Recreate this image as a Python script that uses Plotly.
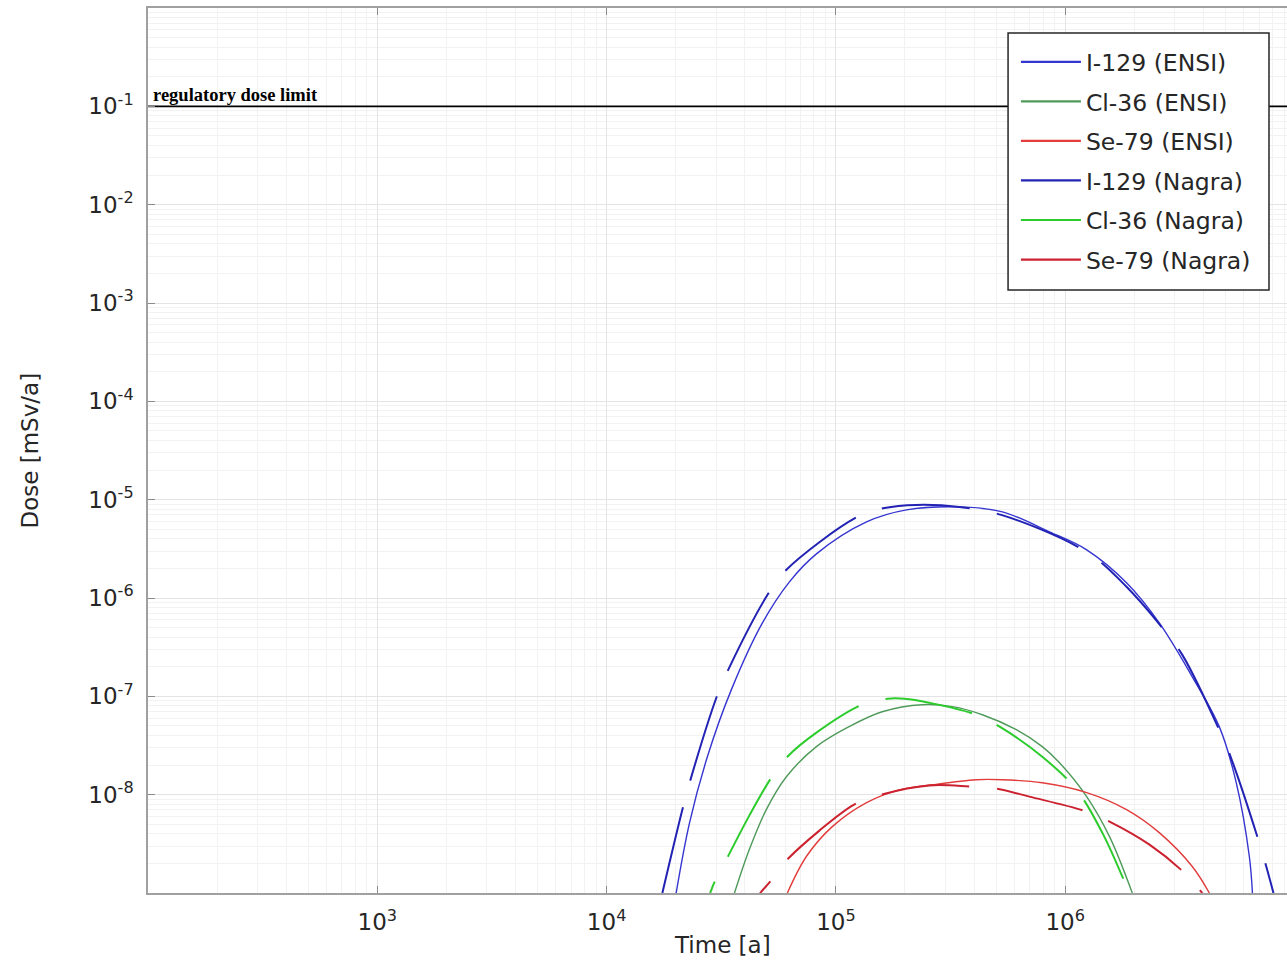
import plotly.graph_objects as go

# ---------------- data ----------------
# I-129 (ENSI)  - solid
t_i129_ensi = [2.01e4, 2.30e4, 2.75e4, 3.50e4, 4.78e4, 6.27e4, 8.22e4, 1.36e5, 2.03e5, 3.45e5,
               5.32e5, 8.53e5, 1.24e6, 1.85e6, 2.57e6, 3.58e6, 4.70e6, 5.57e6, 6.35e6, 6.55e6]
d_i129_ensi = [1.0e-9, 5.2e-9, 2.43e-8, 1.17e-7, 5.58e-7, 1.46e-6, 2.81e-6, 5.94e-6, 7.87e-6, 8.44e-6,
               7.52e-6, 4.71e-6, 3.09e-6, 1.43e-6, 5.58e-7, 1.58e-7, 4.89e-8, 1.32e-8, 2.35e-9, 1.0e-9]

# Cl-36 (ENSI) - solid
t_cl36_ensi = [3.61e4, 4.19e4, 4.97e4, 6.08e4, 8.22e4, 1.14e5, 1.59e5, 2.38e5, 3.22e5, 4.35e5,
               6.12e5, 7.94e5, 9.42e5, 1.24e6, 1.56e6, 1.96e6]
d_cl36_ensi = [1.0e-9, 2.77e-9, 7.05e-9, 1.52e-8, 3.08e-8, 4.91e-8, 6.97e-8, 8.22e-8, 7.85e-8, 6.50e-8,
               4.58e-8, 3.08e-8, 2.12e-8, 9.55e-9, 3.74e-9, 1.0e-9]

# Se-79 (ENSI) - solid
t_se79_ensi = [6.14e4, 7.43e4, 9.64e4, 1.36e5, 1.89e5, 2.63e5, 4.09e5, 5.32e5, 7.94e5, 1.24e6,
               1.85e6, 2.57e6, 3.58e6, 4.25e6]
d_se79_ensi = [1.0e-9, 2.35e-9, 4.73e-9, 8.30e-9, 1.12e-8, 1.26e-8, 1.42e-8, 1.42e-8, 1.32e-8, 1.05e-8,
               7.05e-9, 4.11e-9, 1.86e-9, 1.0e-9]

# I-129 (Nagra) - dashed
t_i129_nagra = [1.75e4, 2.14e4, 2.30e4, 3.01e4, 3.36e4, 5.13e4, 6.08e4, 1.24e5, 1.63e5, 2.24e5,
                3.45e5, 5.26e5, 1.24e6, 1.85e6, 2.76e6, 3.24e6, 4.84e6, 5.36e6, 7.16e6, 8.09e6]
d_i129_nagra = [1.0e-9, 7.05e-9, 1.32e-8, 9.68e-8, 1.78e-7, 1.16e-6, 1.94e-6, 6.68e-6, 8.24e-6, 8.85e-6,
                8.44e-6, 7.00e-6, 2.94e-6, 1.30e-6, 4.42e-7, 2.64e-7, 3.89e-8, 2.16e-8, 2.77e-9, 1.0e-9]

# Cl-36 (Nagra) - dashed (first point lies below the visible range)
t_cl36_nagra = [2.18e4, 2.83e4, 2.95e4, 3.36e4, 4.19e4, 5.23e4, 6.14e4, 8.22e4, 1.30e5, 1.68e5, 1.99e5,
                2.55e5, 4.09e5, 5.26e5, 7.94e5, 1.12e6, 1.45e6, 1.90e6]
d_cl36_nagra = [1.9e-10, 1.0e-9, 1.28e-9, 2.29e-9, 6.12e-9, 1.49e-8, 2.43e-8, 4.27e-8, 8.22e-8, 9.46e-8, 9.46e-8,
                8.61e-8, 6.50e-8, 4.80e-8, 2.43e-8, 1.12e-8, 4.11e-9, 1.0e-9]

# Se-79 (Nagra) - dashed (first point lies below the visible range)
t_se79_nagra = [3.16e4, 4.68e4, 5.13e4, 5.96e4, 8.47e4, 1.20e5, 1.52e5, 2.55e5, 3.82e5, 5.01e5, 6.97e5,
                1.24e6, 1.56e6, 2.33e6, 3.30e6, 3.96e6]
d_se79_nagra = [2.4e-10, 1.0e-9, 1.28e-9, 2.04e-9, 4.31e-9, 7.92e-9, 9.77e-9, 1.24e-8, 1.21e-8, 1.15e-8, 9.55e-9,
                6.73e-9, 5.32e-9, 3.10e-9, 1.61e-9, 1.0e-9]

# regulatory dose limit
limit_t = [1e2, 1e7]
limit_dose = [0.1, 0.1]

x_tickvals = [1e3, 1e4, 1e5, 1e6]
x_ticktext = ["10<sup>3</sup>", "10<sup>4</sup>", "10<sup>5</sup>", "10<sup>6</sup>"]
y_tickvals = [1e-8, 1e-7, 1e-6, 1e-5, 1e-4, 1e-3, 1e-2, 1e-1]
y_ticktext = ["10<sup>-8</sup>", "10<sup>-7</sup>", "10<sup>-6</sup>", "10<sup>-5</sup>",
              "10<sup>-4</sup>", "10<sup>-3</sup>", "10<sup>-2</sup>", "10<sup>-1</sup>"]

series = [
    ("I-129 (ENSI)", t_i129_ensi, d_i129_ensi, "#3535d0", "solid", 1.4),
    ("Cl-36 (ENSI)", t_cl36_ensi, d_cl36_ensi, "#4f9a5a", "solid", 1.4),
    ("Se-79 (ENSI)", t_se79_ensi, d_se79_ensi, "#e23c3c", "solid", 1.4),
    ("I-129 (Nagra)", t_i129_nagra, d_i129_nagra, "#2222b4", "88px,28px", 2.0),
    ("Cl-36 (Nagra)", t_cl36_nagra, d_cl36_nagra, "#2ccc2c", "88px,28px", 2.0),
    ("Se-79 (Nagra)", t_se79_nagra, d_se79_nagra, "#cc2230", "88px,28px", 2.0),
]

FONT = "DejaVu Sans"
TXT = "#262626"
fig = go.Figure()

fig.add_trace(go.Scatter(x=limit_t, y=limit_dose, mode="lines",
                         line=dict(color="black", width=1.6), showlegend=False,
                         hoverinfo="skip"))

for name, t, d, color, dash, w in series:
    fig.add_trace(go.Scatter(x=t, y=d, mode="lines", name=name,
                             line=dict(color=color, dash=dash, width=w, shape="spline", smoothing=1.0),
                             showlegend=False))

# legend entries (solid samples as in the reference)
for i, (name, t, d, color, dash, w) in enumerate(series):
    fig.add_trace(go.Scatter(x=[None], y=[None], mode="lines", name=name,
                             line=dict(color=color, width=2.2), legendgroup="g%d" % i,
                             showlegend=True))

fig.add_annotation(x=0, xref="paper", y=-1, yref="y", xanchor="left", yanchor="bottom",
                   xshift=3, yshift=-1, showarrow=False,
                   text="<b>regulatory dose limit</b>",
                   font=dict(family="Liberation Serif", size=18.5, color="black"))

# axis titles
fig.add_annotation(x=0.504, xref="paper", y=-0.0588, yref="paper", xanchor="center", yanchor="middle",
                   showarrow=False, text="Time [a]", font=dict(family=FONT, size=23, color=TXT))
fig.add_annotation(x=-0.1036, xref="paper", y=0.5, yref="paper", xanchor="center", yanchor="middle",
                   showarrow=False, text="Dose [mSv/a]", textangle=-90,
                   font=dict(family=FONT, size=23, color=TXT))

# legend box
fig.add_shape(type="rect", xref="paper", yref="paper", x0=0.7551, x1=0.9842, y0=0.6814, y1=0.9718,
              line=dict(color=TXT, width=1.5), fillcolor="white", layer="above")

axis_common = dict(
    type="log", showline=True, linecolor="#a0a0a0", linewidth=1.5,
    ticks="inside", ticklen=7, tickcolor="#8a8a8a", tickwidth=1,
    showgrid=True, gridcolor="#e4e4e4", gridwidth=1, zeroline=False,
    tickfont=dict(family=FONT, size=23, color=TXT),
    minor=dict(showgrid=True, gridcolor="#f2f2f2", gridwidth=1, ticks="", dtick="D1"),
)

fig.update_xaxes(range=[2, 6.967], tickmode="array", tickvals=x_tickvals, ticktext=x_ticktext,
                 mirror="ticks", ticklabelstandoff=8, **axis_common)
fig.update_yaxes(range=[-9, 0], tickmode="array", tickvals=y_tickvals, ticktext=y_ticktext,
                 mirror=False, ticklabelstandoff=8, **axis_common)

fig.update_layout(
    width=1287, height=962,
    margin=dict(l=148, r=0, t=8, b=69),
    paper_bgcolor="white", plot_bgcolor="white",
    font=dict(family=FONT, color=TXT),
    legend=dict(x=0.762, y=0.9638, xanchor="left", yanchor="top",
                bgcolor="rgba(0,0,0,0)", borderwidth=0,
                font=dict(family=FONT, size=23.5, color=TXT),
                traceorder="grouped", tracegroupgap=6, itemwidth=60),
    showlegend=True,
)

fig.write_html("out.html")
